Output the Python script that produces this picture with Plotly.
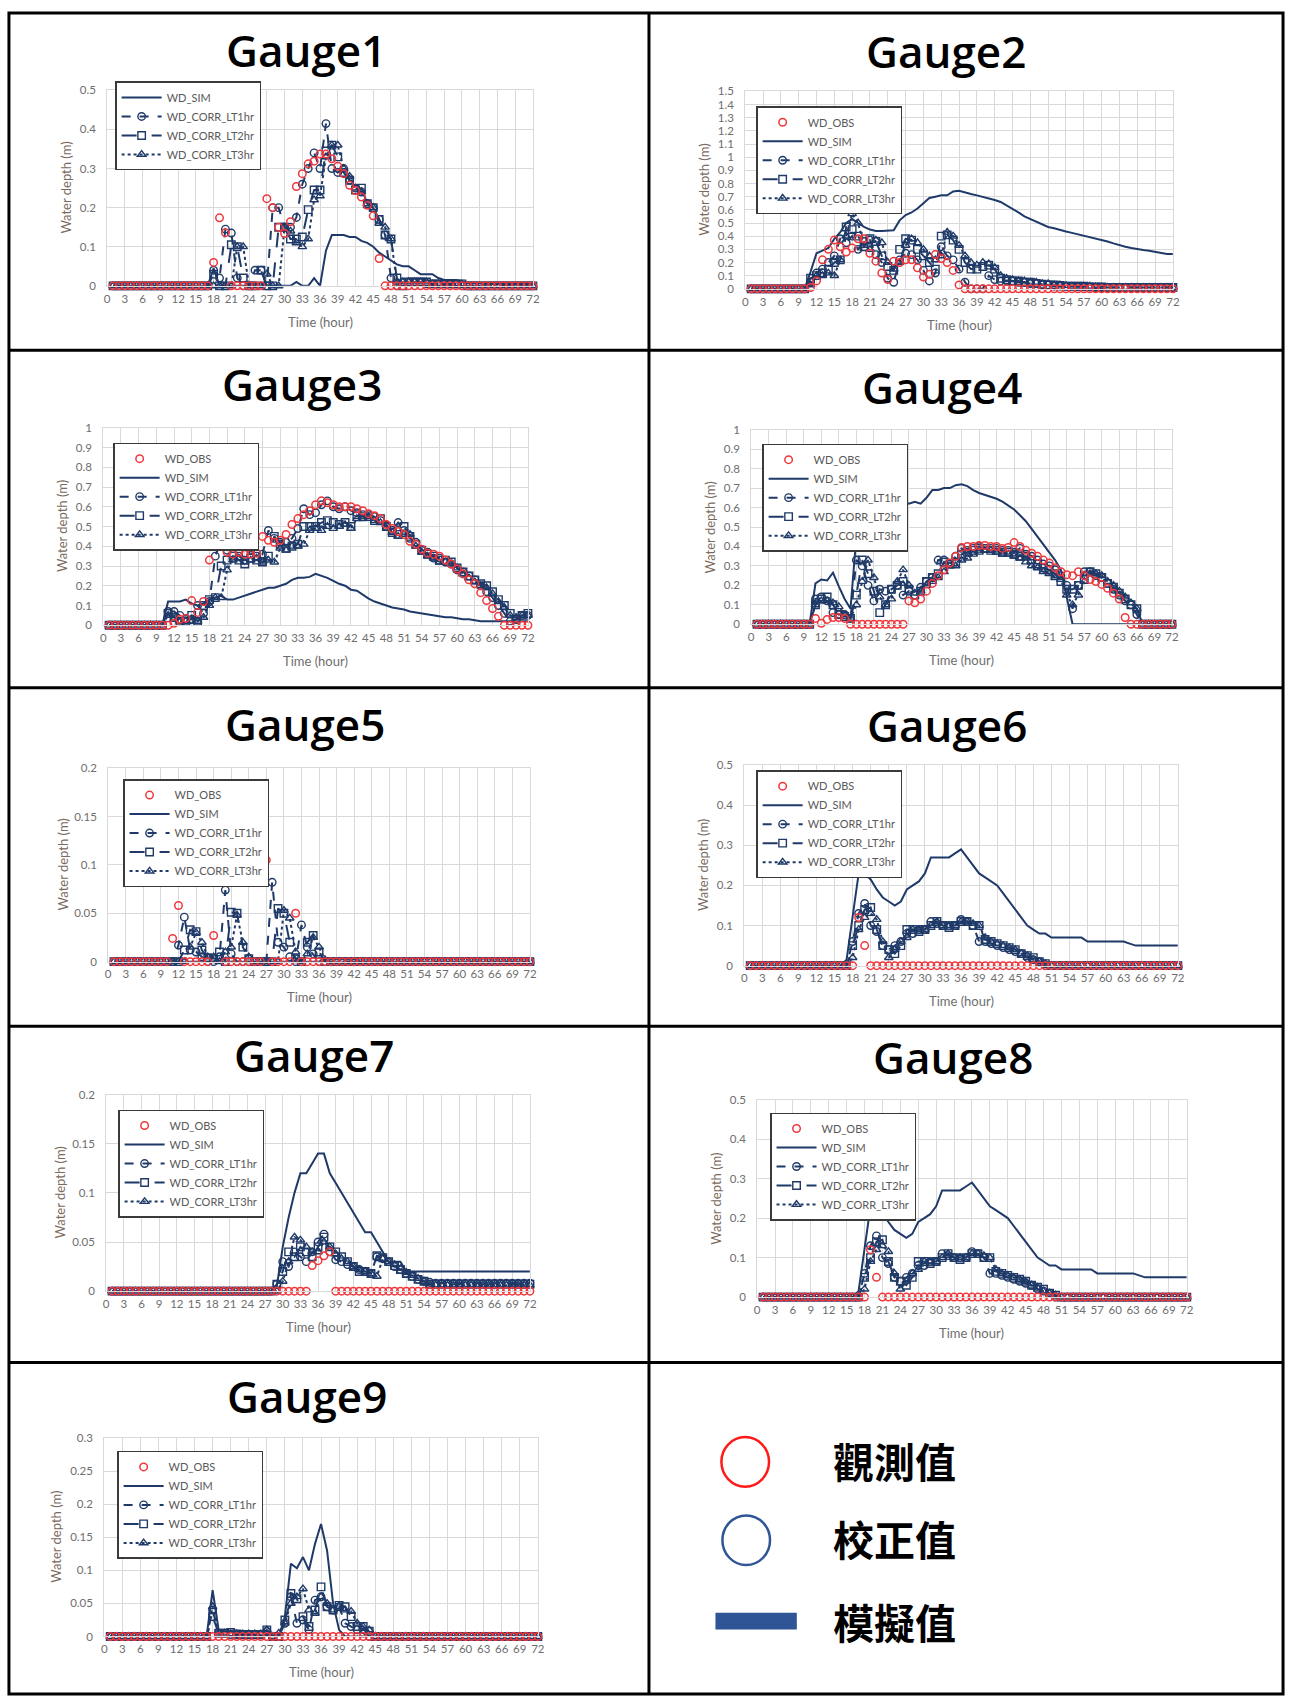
import plotly.graph_objects as go

# ---------------------------------------------------------------- data
HOURS = list(range(1, 73))
X_TICKS = list(range(0, 73, 3))
SERIES_NAMES = ["WD_OBS", "WD_SIM", "WD_CORR_LT1hr", "WD_CORR_LT2hr", "WD_CORR_LT3hr"]
GAUGE_TITLES = ["Gauge1", "Gauge2", "Gauge3", "Gauge4", "Gauge5",
                "Gauge6", "Gauge7", "Gauge8", "Gauge9"]
Y_MAX = [0.5, 1.5, 1.0, 1.0, 0.2, 0.5, 0.2, 0.5, 0.3]
Y_STEP = [0.1, 0.1, 0.1, 0.1, 0.05, 0.1, 0.05, 0.1, 0.05]
KEY_LABELS = ["觀測值", "校正值", "模擬值"]

G1_OBS = [0, 0, 0, 0, 0, 0, 0, 0, 0, 0, 0, 0,
          0, 0, 0, 0, 0, 0.06, 0.174, 0.136, 0, 0, 0, 0,
          0, 0, 0.223, 0.20, 0.15, 0.134, 0.164, 0.254, 0.287, 0.312, 0.319, 0.337,
          0.337, 0.325, 0.306, 0.287, 0.257, 0.244, 0.227, 0.206, 0.179, 0.07, 0, 0,
          0, 0, 0, 0, 0, 0, 0, 0, 0, 0, 0, 0,
          0, 0, 0, 0, 0, 0, 0, 0, 0, 0, 0, 0]
G1_SIM = [0, 0, 0, 0, 0, 0, 0, 0, 0, 0, 0, 0,
          0, 0, 0, 0, 0, 0.045, 0, 0, 0, 0, 0, 0,
          0, 0, 0, 0, 0, 0, 0, 0.01, 0, 0, 0.02, 0,
          0.09, 0.13, 0.13, 0.13, 0.125, 0.125, 0.115, 0.11, 0.10, 0.085, 0.075, 0.065,
          0.055, 0.05, 0.05, 0.04, 0.03, 0.03, 0.03, 0.02, 0.015, 0.015, 0.015, 0.01,
          0.008, 0.008, 0.008, 0.005, 0.005, 0.005, 0.005, 0.005, 0.005, 0.005, 0.005, 0.005]
G1_LT1 = [0, 0, 0, 0, 0, 0, 0, 0, 0, 0, 0, 0,
          0, 0, 0, 0, 0, 0.04, 0.02, 0.145, 0.135, 0.02, 0, 0,
          0.04, 0.04, 0, 0.20, 0.20, 0.15, 0.15, 0.175, 0.26, 0.30, 0.34, 0.30,
          0.415, 0.30, 0.29, 0.30, 0.27, 0.25, 0.24, 0.21, 0.20, 0.17, 0.13, 0.02,
          0, 0.01, 0.01, 0.01, 0.01, 0.005, 0.005, 0.005, 0.005, 0.005, 0.005, 0,
          0, 0, 0, 0, 0, 0, 0, 0, 0, 0, 0, 0]
G1_LT2 = [0, 0, 0, 0, 0, 0, 0, 0, 0, 0, 0, 0,
          0, 0, 0, 0, 0, 0.03, 0, 0, 0.105, 0.10, 0.02, 0,
          0, 0.04, 0, 0, 0.15, 0.15, 0.12, 0.12, 0.125, 0.195, 0.245, 0.245,
          0.345, 0.36, 0.33, 0.29, 0.27, 0.245, 0.25, 0.21, 0.20, 0.17, 0.13, 0.12,
          0.02, 0, 0.01, 0.01, 0.01, 0.01, 0.005, 0.005, 0.005, 0.005, 0.005, 0.005,
          0, 0, 0, 0, 0, 0, 0, 0, 0, 0, 0, 0]
G1_LT3 = [0, 0, 0, 0, 0, 0, 0, 0, 0, 0, 0, 0,
          0, 0, 0, 0, 0, 0, 0, 0, 0, 0.10, 0.10, 0,
          0, 0, 0.03, 0, 0, 0.15, 0.14, 0.11, 0.10, 0.12, 0.22, 0.23,
          0.33, 0.36, 0.36, 0.30, 0.28, 0.25, 0.24, 0.21, 0.20, 0.16, 0.15, 0.12,
          0.01, 0.01, 0.01, 0.01, 0.01, 0.01, 0.005, 0.005, 0.005, 0.005, 0.005, 0.005,
          0, 0, 0, 0, 0, 0, 0, 0, 0, 0, 0, 0]

G2_OBS = [0, 0, 0, 0, 0, 0, 0, 0, 0, 0, 0.01, 0.06,
          0.22, 0.30, 0.37, 0.32, 0.28, 0.31, 0.38, 0.38, 0.27, 0.21, 0.12, 0.07,
          0.21, 0.20, 0.22, 0.22, 0.16, 0.09, 0.11, 0.26, 0.23, 0.20, 0.14, 0.03,
          0, 0, 0, 0, 0, 0, 0, 0, 0, 0, 0, 0,
          0, 0, 0, 0, 0, 0, 0, 0, 0, 0, 0, 0,
          0, 0, 0, 0, 0, 0, 0, 0, 0, 0, 0, 0]
G2_SIM = [0, 0, 0, 0, 0, 0, 0, 0, 0, 0, 0.13, 0.27,
          0.29, 0.31, 0.38, 0.43, 0.50, 0.53, 0.50, 0.47, 0.45, 0.44, 0.44, 0.44,
          0.445, 0.52, 0.56, 0.58, 0.61, 0.65, 0.69, 0.70, 0.71, 0.71, 0.74, 0.745,
          0.73, 0.72, 0.71, 0.70, 0.69, 0.675, 0.66, 0.635, 0.605, 0.58, 0.55, 0.53,
          0.51, 0.49, 0.47, 0.46, 0.445, 0.435, 0.425, 0.415, 0.405, 0.395, 0.385, 0.37,
          0.36, 0.345, 0.33, 0.32, 0.31, 0.30, 0.295, 0.29, 0.28, 0.275, 0.265, 0.265]
G2_LT1 = [0, 0, 0, 0, 0, 0, 0, 0, 0, 0, 0.05, 0.12,
          0.15, 0.20, 0.25, 0.38, 0.35, 0.40, 0.30, 0.36, 0.37, 0.26, 0.20, 0.08,
          0.05, 0.22, 0.27, 0.26, 0.22, 0.14, 0.06, 0.12, 0.32, 0.25, 0.22, 0.15,
          0.05, 0, 0, 0, 0.10, 0.07, 0.06, 0.06, 0.06, 0.05, 0.05, 0.04,
          0.04, 0.03, 0.03, 0.02, 0.02, 0.02, 0.02, 0.015, 0.015, 0.015, 0.01, 0.01,
          0.01, 0.01, 0.01, 0.01, 0.01, 0.01, 0.01, 0.01, 0.01, 0.01, 0.01, 0.01]
G2_LT2 = [0, 0, 0, 0, 0, 0, 0, 0, 0, 0, 0.08, 0.10,
          0.12, 0.15, 0.20, 0.22, 0.47, 0.45, 0.40, 0.32, 0.38, 0.36, 0.25, 0.17,
          0.14, 0.30, 0.38, 0.37, 0.30, 0.25, 0.20, 0.15, 0.40, 0.41, 0.37, 0.30,
          0.20, 0.15, 0.15, 0.17, 0.18, 0.15, 0.08, 0.07, 0.06, 0.06, 0.05, 0.05,
          0.04, 0.035, 0.03, 0.03, 0.025, 0.02, 0.02, 0.02, 0.02, 0.015, 0.015, 0.015,
          0.01, 0.01, 0.01, 0.01, 0.01, 0.01, 0.01, 0.01, 0.01, 0.01, 0.01, 0.01]
G2_LT3 = [0, 0, 0, 0, 0, 0, 0, 0, 0, 0, 0.03, 0.10,
          0.10, 0.12, 0.10, 0.22, 0.40, 0.57, 0.50, 0.33, 0.30, 0.37, 0.35, 0.20,
          0.15, 0.20, 0.33, 0.38, 0.35, 0.30, 0.25, 0.22, 0.25, 0.43, 0.40, 0.33,
          0.25, 0.20, 0.18, 0.20, 0.19, 0.16, 0.10, 0.08, 0.07, 0.06, 0.06, 0.05,
          0.05, 0.04, 0.04, 0.03, 0.03, 0.025, 0.02, 0.02, 0.02, 0.02, 0.015, 0.015,
          0.01, 0.01, 0.01, 0.01, 0.01, 0.01, 0.01, 0.01, 0.01, 0.01, 0.01, 0.01]

G3_OBS = [0, 0, 0, 0, 0, 0, 0, 0, 0, 0, 0, 0.01,
          0.03, 0.035, 0.125, 0.065, 0.12, 0.33, 0.41, 0.42, 0.37, 0.36, 0.37, 0.36,
          0.36, 0.365, 0.45, 0.43, 0.42, 0.43, 0.46, 0.51, 0.54, 0.56, 0.58, 0.61,
          0.63, 0.62, 0.61, 0.60, 0.60, 0.60, 0.59, 0.58, 0.565, 0.555, 0.54, 0.51,
          0.49, 0.475, 0.46, 0.425, 0.41, 0.385, 0.365, 0.36, 0.35, 0.33, 0.31, 0.285,
          0.26, 0.23, 0.21, 0.165, 0.125, 0.085, 0.045, 0, 0, 0, 0, 0]
G3_SIM = [0, 0, 0, 0, 0, 0, 0, 0, 0, 0, 0.12, 0.12,
          0.12, 0.13, 0.11, 0.10, 0.11, 0.13, 0.14, 0.15, 0.13, 0.13, 0.14, 0.15,
          0.16, 0.17, 0.18, 0.19, 0.19, 0.20, 0.21, 0.23, 0.24, 0.24, 0.245, 0.26,
          0.25, 0.24, 0.225, 0.21, 0.20, 0.18, 0.175, 0.155, 0.135, 0.12, 0.11, 0.10,
          0.09, 0.085, 0.08, 0.07, 0.065, 0.06, 0.055, 0.05, 0.045, 0.04, 0.04, 0.035,
          0.03, 0.03, 0.025, 0.02, 0.02, 0.02, 0.02, 0.02, 0.02, 0.02, 0.02, 0.02]
G3_LT1 = [0, 0, 0, 0, 0, 0, 0, 0, 0, 0, 0.07, 0.07,
          0.05, 0.03, 0.03, 0.10, 0.06, 0.12, 0.35, 0.43, 0.38, 0.36, 0.35, 0.33,
          0.38, 0.35, 0.36, 0.48, 0.44, 0.42, 0.42, 0.44, 0.49, 0.59, 0.56, 0.57,
          0.61, 0.63, 0.60, 0.59, 0.60, 0.58, 0.57, 0.56, 0.56, 0.55, 0.53, 0.50,
          0.48, 0.52, 0.48, 0.44, 0.42, 0.38, 0.37, 0.34, 0.34, 0.32, 0.31, 0.28,
          0.27, 0.25, 0.23, 0.20, 0.17, 0.14, 0.10, 0.06, 0.02, 0.03, 0.05, 0.05]
G3_LT2 = [0, 0, 0, 0, 0, 0, 0, 0, 0, 0, 0.06, 0.04,
          0.02, 0.02, 0.05, 0.02, 0.10, 0.13, 0.14, 0.30, 0.33, 0.35, 0.33, 0.31,
          0.34, 0.33, 0.32, 0.35, 0.45, 0.41, 0.39, 0.40, 0.41, 0.50, 0.50, 0.50,
          0.52, 0.53, 0.52, 0.51, 0.52, 0.50, 0.56, 0.55, 0.55, 0.53, 0.54, 0.50,
          0.47, 0.46, 0.50, 0.45, 0.41, 0.38, 0.36, 0.35, 0.33, 0.33, 0.32, 0.29,
          0.27, 0.25, 0.23, 0.21, 0.20, 0.17, 0.13, 0.10, 0.06, 0.03, 0.05, 0.06]
G3_LT3 = [0, 0, 0, 0, 0, 0, 0, 0, 0, 0, 0.05, 0.03,
          0.02, 0.02, 0.02, 0.02, 0.04, 0.10, 0.14, 0.14, 0.28, 0.33, 0.34, 0.32,
          0.33, 0.34, 0.32, 0.33, 0.32, 0.39, 0.38, 0.40, 0.40, 0.41, 0.48, 0.49,
          0.48, 0.50, 0.49, 0.50, 0.51, 0.49, 0.54, 0.54, 0.55, 0.53, 0.52, 0.51,
          0.47, 0.45, 0.46, 0.46, 0.40, 0.37, 0.35, 0.34, 0.32, 0.32, 0.31, 0.29,
          0.26, 0.24, 0.22, 0.20, 0.19, 0.16, 0.12, 0.09, 0.05, 0.04, 0.05, 0.05]

G4_OBS = [0, 0, 0, 0, 0, 0, 0, 0, 0, 0, 0.03, 0.005,
          0.025, 0.035, 0.035, 0.03, 0, 0, 0, 0, 0, 0, 0, 0,
          0, 0, 0.12, 0.11, 0.13, 0.17, 0.21, 0.25, 0.28, 0.315, 0.35, 0.395,
          0.40, 0.40, 0.405, 0.405, 0.40, 0.40, 0.39, 0.395, 0.42, 0.40, 0.38, 0.365,
          0.35, 0.33, 0.315, 0.29, 0.27, 0.255, 0.25, 0.27, 0.25, 0.23, 0.22, 0.205,
          0.185, 0.16, 0.13, 0.035, 0, 0, 0, 0, 0, 0, 0, 0]
G4_SIM = [0, 0, 0, 0, 0, 0, 0, 0, 0, 0, 0.21, 0.23,
          0.225, 0.265, 0.195, 0.13, 0.08, 0.45, 0.55, 0.60, 0.62, 0.63, 0.63, 0.62,
          0.62, 0.63, 0.62, 0.63, 0.62, 0.65, 0.69, 0.69, 0.70, 0.70, 0.715, 0.72,
          0.71, 0.69, 0.675, 0.665, 0.655, 0.645, 0.63, 0.61, 0.59, 0.56, 0.53, 0.49,
          0.45, 0.41, 0.37, 0.33, 0.28, 0.14, 0, 0, 0, 0, 0, 0,
          0, 0, 0, 0, 0, 0, 0, 0, 0, 0, 0, 0]
G4_LT1 = [0, 0, 0, 0, 0, 0, 0, 0, 0, 0, 0.13, 0.14,
          0.12, 0.06, 0.05, 0.05, 0.03, 0.33, 0.30, 0.20, 0.12, 0.18, 0.17, 0.18,
          0.20, 0.15, 0.17, 0.15, 0.19, 0.22, 0.24, 0.33, 0.33, 0.31, 0.35, 0.39,
          0.38, 0.39, 0.40, 0.39, 0.39, 0.39, 0.38, 0.38, 0.37, 0.39, 0.36, 0.35,
          0.33, 0.31, 0.30, 0.28, 0.25, 0.20, 0.08, 0.20, 0.27, 0.27, 0.25, 0.24,
          0.21, 0.18, 0.15, 0.12, 0.10, 0.05, 0, 0, 0, 0, 0, 0]
G4_LT2 = [0, 0, 0, 0, 0, 0, 0, 0, 0, 0, 0.10, 0.13,
          0.14, 0.10, 0.05, 0.04, 0.03, 0.15, 0.33, 0.26, 0.17, 0.06, 0.10, 0.18,
          0.20, 0.22, 0.18, 0.15, 0.17, 0.22, 0.24, 0.26, 0.32, 0.31, 0.32, 0.36,
          0.37, 0.38, 0.39, 0.39, 0.38, 0.38, 0.37, 0.37, 0.36, 0.35, 0.35, 0.33,
          0.31, 0.29, 0.28, 0.26, 0.22, 0.18, 0.18, 0.20, 0.23, 0.27, 0.26, 0.24,
          0.21, 0.19, 0.16, 0.13, 0.10, 0.08, 0, 0, 0, 0, 0, 0]
G4_LT3 = [0, 0, 0, 0, 0, 0, 0, 0, 0, 0, 0.10, 0.12,
          0.12, 0.11, 0.09, 0.05, 0.03, 0.10, 0.22, 0.33, 0.24, 0.14, 0.10, 0.13,
          0.22, 0.28, 0.20, 0.16, 0.17, 0.20, 0.22, 0.24, 0.27, 0.30, 0.30, 0.33,
          0.34, 0.36, 0.37, 0.38, 0.38, 0.37, 0.36, 0.36, 0.35, 0.34, 0.32, 0.30,
          0.29, 0.27, 0.26, 0.24, 0.23, 0.15, 0.10, 0.15, 0.22, 0.26, 0.26, 0.25,
          0.22, 0.20, 0.17, 0.14, 0.11, 0.08, 0, 0, 0, 0, 0, 0]

G5_OBS = [0, 0, 0, 0, 0, 0, 0, 0, 0, 0, 0.024, 0.058,
          0, 0, 0, 0, 0, 0.027, 0.092, 0, 0, 0, 0, 0,
          0, 0, 0.105, 0, 0, 0, 0, 0.05, 0, 0, 0, 0,
          0, 0, 0, 0, 0, 0, 0, 0, 0, 0, 0, 0,
          0, 0, 0, 0, 0, 0, 0, 0, 0, 0, 0, 0,
          0, 0, 0, 0, 0, 0, 0, 0, 0, 0, 0, 0]
G5_SIM = [0, 0, 0, 0, 0, 0, 0, 0, 0, 0, 0, 0,
          0, 0, 0, 0, 0, 0, 0, 0, 0, 0, 0, 0,
          0, 0, 0, 0, 0, 0, 0, 0, 0, 0, 0, 0,
          0.003, 0.003, 0.003, 0.003, 0.003, 0.003, 0, 0, 0, 0, 0, 0,
          0, 0, 0, 0, 0, 0, 0, 0, 0, 0, 0, 0,
          0, 0, 0, 0, 0, 0, 0, 0, 0, 0, 0, 0]
G5_LT1 = [0, 0, 0, 0, 0, 0, 0, 0, 0, 0, 0, 0.017,
          0.046, 0.012, 0.01, 0.005, 0, 0, 0.005, 0.074, 0.008, 0, 0, 0,
          0, 0, 0, 0.082, 0.02, 0.015, 0.005, 0, 0.038, 0.015, 0.008, 0,
          0, 0, 0, 0, 0, 0, 0, 0, 0, 0, 0, 0,
          0, 0, 0, 0, 0, 0, 0, 0, 0, 0, 0, 0,
          0, 0, 0, 0, 0, 0, 0, 0, 0, 0, 0, 0]
G5_LT2 = [0, 0, 0, 0, 0, 0, 0, 0, 0, 0, 0, 0,
          0.012, 0.033, 0.031, 0.012, 0.004, 0.003, 0.01, 0, 0.051, 0.05, 0.015, 0.003,
          0, 0, 0, 0, 0.055, 0.05, 0.02, 0.003, 0, 0.02, 0.027, 0.01,
          0, 0, 0, 0, 0, 0, 0, 0, 0, 0, 0, 0,
          0, 0, 0, 0, 0, 0, 0, 0, 0, 0, 0, 0,
          0, 0, 0, 0, 0, 0, 0, 0, 0, 0, 0, 0]
G5_LT3 = [0, 0, 0, 0, 0, 0, 0, 0, 0, 0, 0, 0,
          0, 0.015, 0.03, 0.02, 0.005, 0.005, 0, 0.01, 0.015, 0.048, 0.02, 0.005,
          0, 0, 0, 0, 0, 0.053, 0.045, 0.01, 0, 0.008, 0.025, 0.015,
          0.002, 0, 0, 0, 0, 0, 0, 0, 0, 0, 0, 0,
          0, 0, 0, 0, 0, 0, 0, 0, 0, 0, 0, 0,
          0, 0, 0, 0, 0, 0, 0, 0, 0, 0, 0, 0]

G6_OBS = [0, 0, 0, 0, 0, 0, 0, 0, 0, 0, 0, 0,
          0, 0, 0, 0, 0, 0, 0.12, 0.05, 0, 0, 0, 0,
          0, 0, 0, 0, 0, 0, 0, 0, 0, 0, 0, 0,
          0, 0, 0, 0, 0, 0, 0, 0, 0, 0, 0, 0,
          0, 0, 0, 0, 0, 0, 0, 0, 0, 0, 0, 0,
          0, 0, 0, 0, 0, 0, 0, 0, 0, 0, 0, 0]
G6_SIM = [0, 0, 0, 0, 0, 0, 0, 0, 0, 0, 0, 0,
          0, 0, 0, 0, 0.015, 0.12, 0.23, 0.23, 0.215, 0.19, 0.17, 0.16,
          0.15, 0.16, 0.19, 0.20, 0.21, 0.23, 0.27, 0.27, 0.27, 0.27, 0.28, 0.29,
          0.27, 0.25, 0.23, 0.22, 0.21, 0.20, 0.18, 0.16, 0.14, 0.12, 0.10, 0.09,
          0.08, 0.08, 0.07, 0.07, 0.07, 0.07, 0.07, 0.07, 0.06, 0.06, 0.06, 0.06,
          0.06, 0.06, 0.06, 0.055, 0.05, 0.05, 0.05, 0.05, 0.05, 0.05, 0.05, 0.05]
G6_LT1 = [0, 0, 0, 0, 0, 0, 0, 0, 0, 0, 0, 0,
          0, 0, 0, 0, 0, 0.06, 0.13, 0.155, 0.10, 0.085, 0.05, 0.04,
          0.05, 0.06, 0.08, 0.08, 0.09, 0.09, 0.11, 0.105, 0.10, 0.10, 0.10, 0.115,
          0.11, 0.10, 0.06, 0.06, 0.055, 0.05, 0.045, 0.04, 0.035, 0.03, 0.02, 0.015,
          0.01, 0, 0, 0, 0, 0, 0, 0, 0, 0, 0, 0,
          0, 0, 0, 0, 0, 0, 0, 0, 0, 0, 0, 0]
G6_LT2 = [0, 0, 0, 0, 0, 0, 0, 0, 0, 0, 0, 0,
          0, 0, 0, 0, 0, 0.05, 0.10, 0.14, 0.145, 0.09, 0.05, 0.04,
          0.03, 0.05, 0.09, 0.09, 0.085, 0.09, 0.10, 0.11, 0.10, 0.095, 0.10, 0.11,
          0.11, 0.10, 0.10, 0.065, 0.06, 0.055, 0.05, 0.045, 0.04, 0.03, 0.025, 0.02,
          0.01, 0.005, 0, 0, 0, 0, 0, 0, 0, 0, 0, 0,
          0, 0, 0, 0, 0, 0, 0, 0, 0, 0, 0, 0]
G6_LT3 = [0, 0, 0, 0, 0, 0, 0, 0, 0, 0, 0, 0,
          0, 0, 0, 0, 0, 0.02, 0.09, 0.12, 0.13, 0.115, 0.06, 0.02,
          0.04, 0.06, 0.07, 0.09, 0.09, 0.09, 0.10, 0.11, 0.10, 0.10, 0.10, 0.11,
          0.11, 0.105, 0.10, 0.07, 0.06, 0.055, 0.05, 0.045, 0.04, 0.03, 0.025, 0.015,
          0.01, 0.005, 0, 0, 0, 0, 0, 0, 0, 0, 0, 0,
          0, 0, 0, 0, 0, 0, 0, 0, 0, 0, 0, 0]

G7_OBS = [0, 0, 0, 0, 0, 0, 0, 0, 0, 0, 0, 0,
          0, 0, 0, 0, 0, 0, 0, 0, 0, 0, 0, 0,
          0, 0, 0, 0, 0, 0, 0, 0, 0, 0, 0.026, 0.031,
          0.036, 0.04, 0, 0, 0, 0, 0, 0, 0, 0, 0, 0,
          0, 0, 0, 0, 0, 0, 0, 0, 0, 0, 0, 0,
          0, 0, 0, 0, 0, 0, 0, 0, 0, 0, 0, 0]
G7_SIM = [0, 0, 0, 0, 0, 0, 0, 0, 0, 0, 0, 0,
          0, 0, 0, 0, 0, 0, 0, 0, 0, 0, 0, 0,
          0, 0, 0, 0, 0.005, 0.045, 0.075, 0.10, 0.12, 0.12, 0.13, 0.14,
          0.14, 0.12, 0.11, 0.10, 0.09, 0.08, 0.07, 0.06, 0.06, 0.05, 0.04, 0.03,
          0.03, 0.03, 0.02, 0.02, 0.02, 0.02, 0.02, 0.02, 0.02, 0.02, 0.02, 0.02,
          0.02, 0.02, 0.02, 0.02, 0.02, 0.02, 0.02, 0.02, 0.02, 0.02, 0.02, 0.02]
G7_LT1 = [0, 0, 0, 0, 0, 0, 0, 0, 0, 0, 0, 0,
          0, 0, 0, 0, 0, 0, 0, 0, 0, 0, 0, 0,
          0, 0, 0, 0, 0.007, 0.03, 0.025, 0.04, 0.035, 0.03, 0.04, 0.05,
          0.058, 0.04, 0.032, 0.03, 0.027, 0.025, 0.022, 0.02, 0.018, 0.035, 0.033, 0.03,
          0.025, 0.022, 0.018, 0.015, 0.012, 0.01, 0.009, 0.008, 0.008, 0.008, 0.008, 0.008,
          0.008, 0.008, 0.008, 0.008, 0.008, 0.008, 0.008, 0.008, 0.008, 0.008, 0.008, 0.008]
G7_LT2 = [0, 0, 0, 0, 0, 0, 0, 0, 0, 0, 0, 0,
          0, 0, 0, 0, 0, 0, 0, 0, 0, 0, 0, 0,
          0, 0, 0, 0, 0.007, 0.02, 0.04, 0.035, 0.045, 0.04, 0.035, 0.045,
          0.055, 0.045, 0.04, 0.035, 0.03, 0.025, 0.02, 0.02, 0.018, 0.036, 0.034, 0.03,
          0.026, 0.022, 0.018, 0.015, 0.012, 0.01, 0.007, 0.007, 0.007, 0.007, 0.007, 0.007,
          0.007, 0.007, 0.007, 0.007, 0.007, 0.007, 0.007, 0.007, 0.007, 0.007, 0.007, 0.007]
G7_LT3 = [0, 0, 0, 0, 0, 0, 0, 0, 0, 0, 0, 0,
          0, 0, 0, 0, 0, 0, 0, 0, 0, 0, 0, 0,
          0, 0, 0, 0, 0, 0.01, 0.03, 0.055, 0.052, 0.045, 0.04, 0.04,
          0.05, 0.045, 0.038, 0.033, 0.03, 0.025, 0.022, 0.02, 0.018, 0.015, 0.033, 0.03,
          0.027, 0.023, 0.019, 0.016, 0.013, 0.01, 0.006, 0.006, 0.006, 0.006, 0.006, 0.006,
          0.006, 0.006, 0.006, 0.006, 0.006, 0.006, 0.006, 0.006, 0.006, 0.006, 0.006, 0.006]

# Gauge8 carries the same record as Gauge6
G8_OBS = G6_OBS
G8_SIM = G6_SIM
G8_LT1 = G6_LT1
G8_LT2 = G6_LT2
G8_LT3 = G6_LT3

G9_OBS = [0, 0, 0, 0, 0, 0, 0, 0, 0, 0, 0, 0,
          0, 0, 0, 0, 0, 0, 0, 0, 0, 0, 0, 0,
          0, 0, 0, 0, 0, 0, 0, 0, 0, 0, 0, 0,
          0, 0, 0, 0, 0, 0, 0, 0, 0, 0, 0, 0,
          0, 0, 0, 0, 0, 0, 0, 0, 0, 0, 0, 0,
          0, 0, 0, 0, 0, 0, 0, 0, 0, 0, 0, 0]
G9_SIM = [0, 0, 0, 0, 0, 0, 0, 0, 0, 0, 0, 0,
          0, 0, 0, 0, 0, 0.07, 0.01, 0.008, 0.007, 0.006, 0.005, 0.004,
          0.003, 0.002, 0, 0, 0, 0.03, 0.11, 0.103, 0.12, 0.10, 0.14, 0.17,
          0.13, 0.05, 0.01, 0, 0, 0, 0, 0, 0, 0, 0, 0,
          0, 0, 0, 0, 0, 0, 0, 0, 0, 0, 0, 0,
          0, 0, 0, 0, 0, 0, 0, 0, 0, 0, 0, 0]
G9_LT1 = [0, 0, 0, 0, 0, 0, 0, 0, 0, 0, 0, 0,
          0, 0, 0, 0, 0, 0.04, 0.005, 0.005, 0.003, 0.003, 0.003, 0.003,
          0.003, 0.003, 0.008, 0, 0, 0.02, 0.06, 0.02, 0.025, 0.01, 0.055, 0.06,
          0.045, 0.04, 0.045, 0.02, 0.015, 0.01, 0.005, 0, 0, 0, 0, 0,
          0, 0, 0, 0, 0, 0, 0, 0, 0, 0, 0, 0,
          0, 0, 0, 0, 0, 0, 0, 0, 0, 0, 0, 0]
G9_LT2 = [0, 0, 0, 0, 0, 0, 0, 0, 0, 0, 0, 0,
          0, 0, 0, 0, 0, 0.03, 0.005, 0.005, 0.006, 0.004, 0.003, 0.003,
          0.003, 0.003, 0.01, 0, 0, 0.025, 0.065, 0.057, 0.03, 0.015, 0.04, 0.075,
          0.045, 0.04, 0.047, 0.045, 0.03, 0.015, 0.015, 0.008, 0, 0, 0, 0,
          0, 0, 0, 0, 0, 0, 0, 0, 0, 0, 0, 0,
          0, 0, 0, 0, 0, 0, 0, 0, 0, 0, 0, 0]
G9_LT3 = [0, 0, 0, 0, 0, 0, 0, 0, 0, 0, 0, 0,
          0, 0, 0, 0, 0, 0.045, 0.005, 0.005, 0.004, 0.004, 0.004, 0.004,
          0.004, 0.004, 0.01, 0, 0.005, 0.02, 0.05, 0.06, 0.072, 0.04, 0.035, 0.06,
          0.05, 0.04, 0.045, 0.04, 0.038, 0.02, 0.015, 0.01, 0, 0, 0, 0,
          0, 0, 0, 0, 0, 0, 0, 0, 0, 0, 0, 0,
          0, 0, 0, 0, 0, 0, 0, 0, 0, 0, 0, 0]

GAUGE_SERIES = [
    (G1_OBS, G1_SIM, G1_LT1, G1_LT2, G1_LT3),
    (G2_OBS, G2_SIM, G2_LT1, G2_LT2, G2_LT3),
    (G3_OBS, G3_SIM, G3_LT1, G3_LT2, G3_LT3),
    (G4_OBS, G4_SIM, G4_LT1, G4_LT2, G4_LT3),
    (G5_OBS, G5_SIM, G5_LT1, G5_LT2, G5_LT3),
    (G6_OBS, G6_SIM, G6_LT1, G6_LT2, G6_LT3),
    (G7_OBS, G7_SIM, G7_LT1, G7_LT2, G7_LT3),
    (G8_OBS, G8_SIM, G8_LT1, G8_LT2, G8_LT3),
    (G9_OBS, G9_SIM, G9_LT1, G9_LT2, G9_LT3),
]

# ---------------------------------------------------------------- layout geometry (pixels)
W, H = 1295, 1704
# plot box: left, right, top, bottom; legend top-left; title centre; y-title x
PANELS = [
    dict(box=(105, 534, 84, 281), leg=(113, 75), title=(305, 43), ytx=64),
    dict(box=(748, 1179, 85, 284), leg=(759, 100), title=(950, 44), ytx=707),
    dict(box=(101, 529, 424, 623), leg=(111, 439), title=(301, 380), ytx=59),
    dict(box=(754, 1178, 426, 622), leg=(765, 440), title=(946, 383), ytx=713),
    dict(box=(106, 531, 767, 962), leg=(121, 778), title=(304, 723), ytx=60),
    dict(box=(747, 1184, 764, 966), leg=(759, 769), title=(951, 724), ytx=706),
    dict(box=(104, 531, 1096, 1294), leg=(116, 1111), title=(313, 1056), ytx=57),
    dict(box=(760, 1193, 1101, 1300), leg=(773, 1114), title=(957, 1058), ytx=719),
    dict(box=(102, 539, 1442, 1642), leg=(115, 1455), title=(306, 1400), ytx=54),
]


def fx(px):
    return px / W


def fy(py):
    return 1 - py / H


NAVY = "#1f3a68"
RED = "#f0373c"
GRID = "#d9d9d9"
TICK_COLOR = "#6e6e6e"
LEG_TEXT = "#595959"
FONT = "Lato"

STYLES = [
    dict(mode="markers", marker=dict(symbol="circle-open", size=7.5, color=RED, line=dict(width=1.5, color=RED))),
    dict(mode="lines", line=dict(color=NAVY, width=2)),
    dict(mode="lines+markers", line=dict(color=NAVY, width=2, dash="dash"),
         marker=dict(symbol="circle-open", size=7.5, color=NAVY, line=dict(width=1.4, color=NAVY))),
    dict(mode="lines+markers", line=dict(color=NAVY, width=2, dash="longdash"),
         marker=dict(symbol="square-open", size=7.5, color=NAVY, line=dict(width=1.4, color=NAVY))),
    dict(mode="lines+markers", line=dict(color=NAVY, width=2, dash="dot"),
         marker=dict(symbol="triangle-up-open", size=7.5, color=NAVY, line=dict(width=1.4, color=NAVY))),
]
# draw order: simulation and corrections first, observations on top
DRAW_ORDER = [1, 2, 3, 4, 0]

fig = go.Figure()
layout = dict(
    width=W, height=H, margin=dict(l=0, r=0, t=0, b=0),
    paper_bgcolor="white", plot_bgcolor="white", showlegend=True,
)
annotations = []
shapes = []

for i, (panel, series) in enumerate(zip(PANELS, GAUGE_SERIES)):
    n = i + 1
    sfx = "" if n == 1 else str(n)
    xa, ya = "x" + sfx, "y" + sfx
    leg_name = "legend" + sfx
    L, R, T, B = panel["box"]

    for k in DRAW_ORDER:
        show = not (n == 1 and k == 0)
        fig.add_trace(go.Scatter(
            x=HOURS, y=series[k], name=SERIES_NAMES[k], xaxis=xa, yaxis=ya,
            legend=leg_name, legendrank=k + 1, showlegend=show, cliponaxis=False,
            hoverinfo="skip", **STYLES[k]))

    layout["xaxis" + sfx] = dict(
        domain=[fx(L), fx(R)], anchor=ya, range=[0, 72], tickmode="array",
        tickvals=X_TICKS, ticktext=[str(t) for t in X_TICKS],
        showgrid=True, gridcolor=GRID, gridwidth=1, zeroline=False,
        showline=True, linecolor=GRID, linewidth=1, mirror=True,
        tickfont=dict(family=FONT, size=11.5, color=TICK_COLOR), ticklabelstandoff=2,
        fixedrange=True)
    layout["yaxis" + sfx] = dict(
        domain=[fy(B), fy(T)], anchor=xa, range=[0, Y_MAX[i]], tick0=0, dtick=Y_STEP[i],
        showgrid=True, gridcolor=GRID, gridwidth=1, zeroline=False,
        showline=True, linecolor=GRID, linewidth=1, mirror=True,
        tickfont=dict(family=FONT, size=11.5, color=TICK_COLOR), ticklabelstandoff=8,
        fixedrange=True)
    lx, ly = panel["leg"]
    layout[leg_name] = dict(
        x=fx(lx), y=fy(ly), xanchor="left", yanchor="top", xref="paper", yref="paper",
        bgcolor="white", bordercolor="#3a3a3a", borderwidth=1.5,
        font=dict(family=FONT, size=11, color=LEG_TEXT), itemwidth=40,
        tracegroupgap=0)

    tx, ty = panel["title"]
    annotations.append(dict(
        text=GAUGE_TITLES[i], x=fx(tx), y=fy(ty), xref="paper", yref="paper",
        xanchor="center", yanchor="middle", showarrow=False,
        font=dict(family="Open Sans", size=44, color="black", weight=600)))
    annotations.append(dict(
        text="Water depth (m)", x=fx(panel["ytx"]), y=fy((T + B) / 2), xref="paper", yref="paper",
        xanchor="center", yanchor="middle", showarrow=False, textangle=-90,
        font=dict(family=FONT, size=13, color="#7a6a5e")))
    annotations.append(dict(
        text="Time (hour)", x=fx((L + R) / 2), y=fy(B + 36), xref="paper", yref="paper",
        xanchor="center", yanchor="middle", showarrow=False,
        font=dict(family=FONT, size=13, color="#6e6e6e")))

# ---------------------------------------------------------------- panel frame
FRAME = dict(color="black", width=3)
XL, XM, XR = 6, 651, 1290
ROWS_Y = [6, 346, 686, 1027, 1366, 1700]
shapes.append(dict(type="rect", xref="paper", yref="paper", x0=fx(XL), x1=fx(XR),
                   y0=fy(ROWS_Y[0]), y1=fy(ROWS_Y[-1]), line=FRAME))
shapes.append(dict(type="line", xref="paper", yref="paper", x0=fx(XM), x1=fx(XM),
                   y0=fy(ROWS_Y[0]), y1=fy(ROWS_Y[-1]), line=FRAME))
for yy in ROWS_Y[1:-1]:
    shapes.append(dict(type="line", xref="paper", yref="paper", x0=fx(XL), x1=fx(XR),
                       y0=fy(yy), y1=fy(yy), line=FRAME))

# ---------------------------------------------------------------- key panel
KEY_BLUE = "#2f5597"
shapes.append(dict(type="circle", xref="paper", yref="paper", x0=fx(724), x1=fx(772),
                   y0=fy(1441), y1=fy(1491), line=dict(color="#ff1a1a", width=2.5)))
shapes.append(dict(type="circle", xref="paper", yref="paper", x0=fx(725), x1=fx(773),
                   y0=fy(1520), y1=fy(1570), line=dict(color=KEY_BLUE, width=2.5)))
shapes.append(dict(type="rect", xref="paper", yref="paper", x0=fx(718), x1=fx(800),
                   y0=fy(1618), y1=fy(1635), line=dict(width=0), fillcolor=KEY_BLUE))
for label, yc in zip(KEY_LABELS, [1464, 1543, 1626]):
    annotations.append(dict(
        text=label, x=fx(834), y=fy(yc), xref="paper", yref="paper",
        xanchor="left", yanchor="middle", showarrow=False,
        font=dict(family="Noto Sans CJK TC", size=41, color="black", weight="bold")))

layout["annotations"] = annotations
layout["shapes"] = shapes
fig.update_layout(**layout)

fig.write_html("out.html")
